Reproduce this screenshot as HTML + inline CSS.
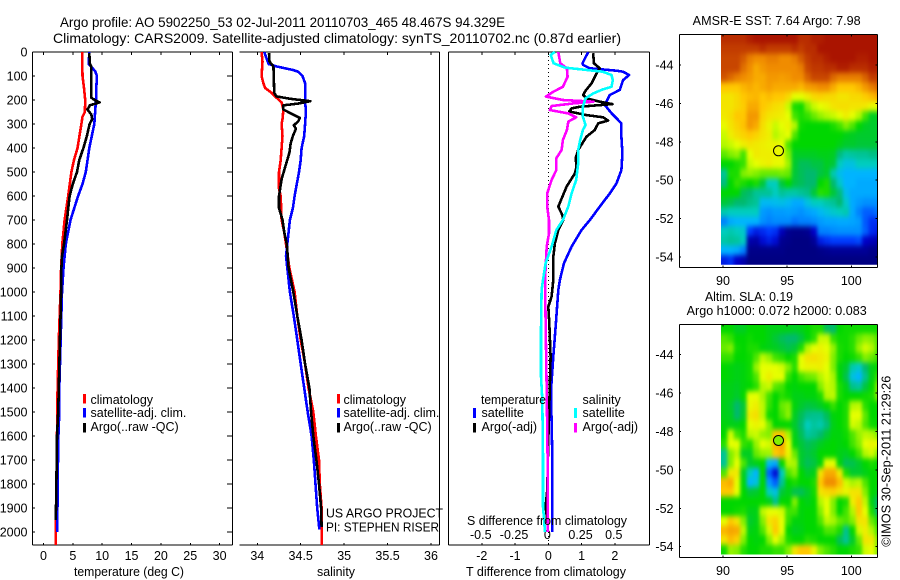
<!DOCTYPE html>
<html>
<head>
<meta charset="utf-8">
<title>Argo profile</title>
<style>
html,body{margin:0;padding:0;background:#fff;width:900px;height:580px;overflow:hidden}
svg{display:block}
text{font-family:"Liberation Sans",Arial,sans-serif;font-size:12.5px;fill:#000}
</style>
</head>
<body>
<svg id="fig" width="900" height="580" viewBox="0 0 900 580" xmlns="http://www.w3.org/2000/svg">
<defs>
<filter id="soften" x="-10%" y="-10%" width="120%" height="120%" color-interpolation-filters="sRGB"><feGaussianBlur stdDeviation="1.8 2.6"/></filter>
<clipPath id="sst-clip"><rect x="721" y="34.5" width="156.5" height="230.2"/></clipPath>
<clipPath id="sla-clip"><rect x="721" y="324.5" width="156.5" height="230"/></clipPath>
</defs>
<rect x="0" y="0" width="900" height="580" fill="#fff"/>
<text x="60" y="27" style="font-size:14px" textLength="445" lengthAdjust="spacingAndGlyphs">Argo profile: AO 5902250_53 02-Jul-2011 20110703_465 48.467S 94.329E</text>
<text x="53" y="43" style="font-size:14px" textLength="568" lengthAdjust="spacingAndGlyphs">Climatology: CARS2009. Satellite-adjusted climatology: synTS_20110702.nc (0.87d earlier)</text>
<g id="panels"></g>
<g id="maps"></g>

<text x="74" y="576" textLength="110" lengthAdjust="spacingAndGlyphs">temperature (deg C)</text>
<text x="317" y="576" textLength="38" lengthAdjust="spacingAndGlyphs">salinity</text>
<text x="466" y="576" textLength="160" lengthAdjust="spacingAndGlyphs">T difference from climatology</text>
<text x="467" y="525" textLength="160" lengthAdjust="spacingAndGlyphs">S difference from climatology</text>

<g>
<rect x="83" y="394" width="3" height="9.5" fill="#f00"/>
<rect x="83" y="408" width="3" height="9.5" fill="#00f"/>
<rect x="83" y="423" width="3" height="9.5" fill="#000"/>
<text x="90.5" y="404">climatology</text>
<text x="90.5" y="417">satellite-adj. clim.</text>
<text x="90.5" y="431">Argo(..raw -QC)</text>
</g>
<g>
<rect x="337" y="394" width="3" height="9.5" fill="#f00"/>
<rect x="337" y="408" width="3" height="9.5" fill="#00f"/>
<rect x="337" y="423" width="3" height="9.5" fill="#000"/>
<text x="343.5" y="404">climatology</text>
<text x="343.5" y="417">satellite-adj. clim.</text>
<text x="343.5" y="431">Argo(..raw -QC)</text>
</g>
<text x="326" y="517.5" textLength="117" lengthAdjust="spacingAndGlyphs">US ARGO PROJECT</text>
<text x="326" y="531.7" textLength="113" lengthAdjust="spacingAndGlyphs">PI: STEPHEN RISER</text>

<g>
<text x="481" y="404" textLength="65" lengthAdjust="spacingAndGlyphs">temperature</text>
<text x="582.5" y="404">salinity</text>
<rect x="473" y="408" width="3" height="10" fill="#00f"/>
<rect x="473" y="423" width="3" height="9.5" fill="#000"/>
<rect x="574" y="408" width="3" height="10" fill="#0ff"/>
<rect x="574" y="423" width="3" height="9.5" fill="#f0f"/>
<text x="481.5" y="417">satellite</text>
<text x="481.5" y="431">Argo(-adj)</text>
<text x="582.5" y="417">satellite</text>
<text x="582.5" y="431">Argo(-adj)</text>
</g>

<text x="692.7" y="25" textLength="168" lengthAdjust="spacingAndGlyphs">AMSR-E SST: 7.64 Argo: 7.98</text>
<text x="705" y="301" textLength="88" lengthAdjust="spacingAndGlyphs">Altim. SLA: 0.19</text>
<text x="686.7" y="315" textLength="180" lengthAdjust="spacingAndGlyphs">Argo h1000: 0.072 h2000: 0.083</text>
<text transform="translate(890.5 546.7) rotate(-90)" textLength="171" lengthAdjust="spacingAndGlyphs">©IMOS 30-Sep-2011 21:29:26</text>
</svg>
<script>
// ---------- profile data (depth in dbar) ----------
var depthTicks = [0,100,200,300,400,500,600,700,800,900,1000,1100,1200,1300,1400,1500,1600,1700,1800,1900,2000];
var tempTicks = [0,5,10,15,20,25,30];
var salTicks = [34,34.5,35,35.5,36];
var salTickLabels = ['34','34.5','35','35.5','36'];
var tDiffTicks = [-2,-1,0,1,2];
var tDiffLabels = ['-2','-1','0','1','2'];
var sDiffTicks = [-0.5,-0.25,0,0.25,0.5];
var sDiffLabels = ['-0.5','-0.25','0','0.25','0.5'];

var tempClimDepth = [0,100,150,200,250,270,300,400,450,500,600,700,800,900,1000,1200,1400,1700,2000,2054];
var tempClim = [6.6,6.65,6.9,7.1,7.05,6.65,6.45,5.8,5.2,4.75,4.2,3.6,3.2,3.0,2.9,2.6,2.4,2.25,2.1,2.1];
var tempSatDepth = [0,50,80,100,150,200,300,400,500,550,600,700,800,900,1000,1400,1500,1600,1800,2000];
var tempSat = [7.8,7.7,8.8,9.1,9,8.95,8.65,7.8,7.2,6.65,5.9,4.6,3.8,3.4,3.15,2.7,2.7,2.53,2.4,2.35];
var tempArgoDepth = [5,50,60,190,200,210,222,240,260,280,300,350,400,450,500,550,600,700,800,850,900,1000,1400,1500,1600,1800,1950];
var tempArgo = [7.8,7.9,8.15,8.15,8.7,9.55,7.9,7.5,8.15,8.3,7.85,7.4,6.8,6.1,5.7,5,4.45,4,3.5,3.15,3.05,3,2.6,2.5,2.3,2.2,2.1];

var salClimDepth = [0,40,100,130,150,170,190,210,240,280,300,350,400,450,500,570,600,700,750,800,900,1000,1100,1200,1300,1400,1500,1600,1700,1800,1900,2054];
var salClim = [34.05,34.06,34.05,34.07,34.09,34.165,34.22,34.28,34.3,34.29,34.28,34.29,34.28,34.27,34.25,34.25,34.27,34.28,34.31,34.33,34.37,34.43,34.46,34.5,34.55,34.59,34.645,34.675,34.71,34.72,34.74,34.74];
var salSatDepth = [0,50,60,75,82,100,130,200,250,300,350,400,450,500,600,650,700,800,850,900,1000,1100,1200,1300,1400,1500,1600,1700,1800,1900,1990];
var salSat = [34.08,34.13,34.22,34.41,34.47,34.52,34.55,34.55,34.56,34.55,34.54,34.51,34.5,34.48,34.43,34.41,34.375,34.345,34.33,34.345,34.375,34.42,34.46,34.5,34.54,34.58,34.625,34.65,34.67,34.69,34.715];
var salArgoDepth = [5,40,60,100,170,185,195,205,215,222,240,260,275,290,305,320,350,380,420,480,530,600,650,700,750,800,900,1000,1100,1200,1300,1400,1500,1600,1700,1800,1900,1980];
var salArgo = [34.135,34.14,34.185,34.19,34.195,34.22,34.38,34.61,34.47,34.3,34.3,34.41,34.49,34.47,34.42,34.445,34.41,34.385,34.37,34.32,34.28,34.25,34.25,34.29,34.31,34.34,34.36,34.415,34.46,34.51,34.55,34.6,34.62,34.645,34.68,34.71,34.735,34.74];

var tDiffSatDepth = [0,47,54,68,78,82,96,117,158,179,221,255,297,353,423,492,547,589,644,700,742,811,881,950,992,1130,1269,1408,1547,1686,1825,2000];
var tDiffSat = [1.2,1.03,1.05,1.25,2.05,2.25,2.43,2.25,2.15,1.85,1.7,1.9,2.2,2.2,2.23,2.2,2.05,1.85,1.55,1.25,1,0.7,0.47,0.35,0.3,0.23,0.15,0.08,0.1,0.12,0.12,0.12];
var tDiffArgoDepth = [5,47,68,89,131,165,179,193,207,217,228,235,248,263,272,286,297,325,353,408,443,478,506,561,644,679,700,742,797,853,950,1019,1061,1130,1269,1477,1616,1825,1894,1963];
var tDiffArgo = [1.35,1.37,1.55,1.45,1.3,1.1,1.05,1.15,1.55,1.93,0.95,0.7,0.63,1.15,1.65,1.8,1.5,1.4,1.15,0.9,0.82,0.85,0.8,0.55,0.3,0.42,0.45,0.3,0.2,0.15,0.15,0.1,0,0.03,0.07,0.03,0,-0.03,-0.08,-0.02];
var sDiffSatDepth = [0,12,47,65,75,82,96,117,145,156,172,193,228,269,304,325,367,408,464,533,589,644,700,742,811,881,950,992,1158,1241,1352,1449,1685,1894,2000];
var sDiffSat = [0.05,0.018,0.04,0.125,0.29,0.41,0.475,0.485,0.475,0.41,0.34,0.28,0.26,0.26,0.28,0.26,0.24,0.225,0.225,0.21,0.175,0.15,0.11,0.06,0.025,-0.02,-0.04,-0.05,-0.055,-0.055,-0.055,-0.045,-0.04,-0.04,-0.025];
var sDiffArgoDepth = [0,47,68,103,145,165,186,200,207,214,225,242,256,272,290,325,367,408,443,492,533,589,644,700,756,811,950,1200,1408,1685,2000];
var sDiffArgo = [0.075,0.09,0.14,0.145,0.11,0.04,-0.018,0.11,0.34,0.19,0.025,0.012,0.15,0.21,0.15,0.14,0.11,0.1,0.06,0.06,0.025,-0.008,-0.008,0.005,0.005,-0.012,-0.025,-0.018,-0.012,-0.005,-0.005];

// ---------- map data (colour-scale levels per 0.5 degree cell, north to south) ----------
var mapLatTicks = [-44,-46,-48,-50,-52,-54];
var mapLonTicks = [90,95,100];
var argoLon = 94.329;
var argoLat = -48.467;
var argoSlaLevel = 8;
var sstLevels = [
[12.5,12.5,12.5,12.5,12.8,13,13,13,13,13,13,13,12.5,12.5,12.8,12.8,13,13,13,13,13,13,13,13,13],
[12.2,12.2,12.2,12.2,12.2,12.2,12.5,12.2,12.2,12.2,12.2,12.5,12.2,12.5,12.5,13,13,13,13,13,13,13,13,13,13],
[12,12,12,11.7,11.2,11,11,11.2,11.2,11,11,11.2,11.7,12.2,12.5,12.5,12.8,13,13,13,13,12.8,12.8,13,13],
[12,12,12,11.4,11,10.5,10.8,11,11,11,11,11,11.2,12,12.3,12.3,12.5,12.5,12.8,12.8,12.5,12.5,12.5,12.8,12.8],
[11.8,11.5,11.2,11,10.8,10.5,10.5,10.8,10.8,10.7,10.8,11,11,11.6,12,12,12,11.5,11.2,11.2,11.2,11.2,11.6,12.2,12.2],
[10,10,10,10.3,10.5,10.3,10.5,10.7,10.5,10.5,10.5,10.5,10.3,10.7,10.8,11,11,10.5,10,10,10,10.3,10.8,11.2,11.5],
[9.5,9.5,9.7,10,10.2,10.3,10,10.2,10,10,9.7,9,9,9.3,9.7,9.8,9.7,9.7,9.5,9.5,9.7,9.7,9.9,10.2,10.5],
[9.5,9.5,9.7,9.9,10.5,10.5,10,9.8,9.6,9.5,8.7,7.2,7.1,8,8.7,9,9.2,9.5,9.6,9.6,9.5,9.5,9.4,9.1,9],
[9.4,9.6,10,10,10.8,10.8,9.8,9.5,9.4,9.3,9,7.5,7.2,7.4,7.8,8.2,8.5,8.7,9,9.3,9,8.5,7.5,6.7,6.7],
[9.1,9.5,9.8,10.1,10.8,10.5,9.6,9.2,8.7,9,9.2,8.5,7.1,7,7,7,7,7.2,7.5,8,7.6,7,6.7,6.6,6.6],
[8.7,9.3,9.6,9.8,10,9.8,9.5,9.3,8.5,8.8,9,7.6,7,7,7,7,7,7,7,6.8,6.7,6.6,6.6,6.6,6.6],
[8.5,8.7,9,9.3,9.5,9.4,9.3,9.2,9.2,9,7.6,7,7,7,7,7,7,7,6.8,6.6,6.6,6.5,6.5,6.5,6.5],
[7.7,8,8.2,7.5,9,9.4,9.3,9.3,9.2,9.1,8,6.7,6.7,6.7,6.7,6.8,6.8,6.7,5.8,5.3,5.4,5.5,5.5,5.7,5.7],
[7,7,7.2,7.4,8.7,9,9.2,9.3,9.1,9.1,8.3,6.6,6.2,6.2,6.4,6.4,6.7,6.5,5,4.5,4.5,5,5,5,5],
[5.5,7.2,7.2,8,8.2,8,7.8,7.8,7.8,7.9,7.8,6.5,6.2,6,6,6.4,6.6,5.2,4.3,4,4,4,4,4,4],
[5.8,7,7.4,7.2,7,7.2,6.5,5,5,6.5,7,6.4,6.2,6,6,7,7.2,6,4.8,4,4,3.8,3.8,3.8,3.8],
[7,7,7,6.2,6,5.5,5.5,5.5,5,5.5,5.3,5.3,5.5,5.7,6.5,7.3,7.2,6.5,5.8,4.3,3.8,3.8,3.8,3.8,3.8],
[6.5,6.3,6,6,5.7,5.5,4.2,4.2,4.3,4.4,4.2,3.8,3.8,4.5,5,5,5.3,5.5,6,4.8,3.8,3.5,3.3,3.3,3.3],
[5.2,5,5,5,5,5,3.5,3.3,3.5,3.5,3.6,3.5,3.3,3.6,3.8,4.2,4.5,4.8,5,5.2,3.8,3,2.5,2.5,2.8],
[3,3.8,4,4,4,4,3.3,3,3.2,3.2,3.2,2.8,3,3,3.2,3.5,3.7,3.7,3.8,3.8,3.7,3.5,2.4,1.8,1.8],
[5,5.2,5,4.8,2,1.5,1.7,2,1.8,0.8,0.2,0.1,0.1,0.2,1,3,3,3.2,3.3,3.3,3.3,3.3,2.5,1.7,1.5],
[5.3,5.5,5.4,5,0.6,0.5,1.2,1.5,1.2,0.2,0.1,0,0,0,0.3,1.5,1.8,2,2,2,2,2.2,1,0.8,0.6],
[4,4,3.8,3,0.1,0.1,0.1,0.1,0.1,0.1,0,0,0,0,0,0.1,0.2,0.3,0.3,0.3,0.3,0.3,0.3,0.1,0.1],
[1.5,1.8,1,0.6,0,0,0,0,0,0,0,0,0,0,0,0,0,0,0,0,0,0,0,0,0]
];
var slaLevels = [
[7,7,6.7,6.7,7,7,7,6.8,6.8,6.8,6.8,6.7,6.8,7,7.2,7.2,6.2,6,7,7.1,7.1,7.1,7.1,7.1,7.1],
[7.6,7.4,7,7,7.1,7,7,6.8,6.5,6.2,6,6,6.4,6.9,7.3,8.7,8.7,7.4,7.1,7.1,7.3,7.8,8.1,8,7.6],
[7.8,8,7.1,7,7.2,7.2,6.9,6.8,6.7,6.5,6.3,6.5,7.2,8.5,9,9.2,9,8.2,7.2,7.1,7.3,8.2,8.8,8.5,7.6],
[7.4,7.4,7,7,7.1,7.6,8.6,8.2,7.5,7.3,7,7.2,9,9.5,9.6,9.4,9.2,8,7.2,7,7.1,7.4,8,7.8,7.4],
[7,6.9,6.8,6.9,7.1,8.2,9,9,9,8.8,8,7.3,9,9.2,9.2,9.3,9,8,6.9,6.6,5.2,4.8,6,6.8,7],
[7,6.9,6.8,6.9,7.1,7.6,9,9.3,9,9,7.4,7,7.5,7.8,7.9,8.5,8.9,8.4,7,6.3,4.5,4,5.6,6.8,7.4],
[6.8,6.8,6.7,6.9,7,7.3,8.5,8.7,7.7,7.5,7,6.9,7,7,7,8,8.7,8.5,7.2,6.8,5.6,5.4,6.4,7,8],
[6.8,6.8,6.6,7,9,9,8.4,7.5,7,7.3,7.1,6.8,6.8,6.9,6.9,7.2,8.5,8.6,7.2,7,7,7,7.1,7.2,8],
[6.8,6.6,6,6.5,9.1,9.3,8.6,7.4,7,7.8,8,6.9,6.6,6.4,6.5,6.7,7,7.4,7,7.2,8.5,8.6,7.3,7,7],
[6.8,6.7,6,6.6,9.4,9.6,8.6,7.1,7,7.6,8.1,6.7,6.2,5.7,5.6,5.6,6.2,6.9,7,7.2,9,9,7.7,7,7],
[6.9,6.8,6.8,7,9,9.2,9,8,7,7,7,6.6,6,5,5.4,5.2,5.8,6.8,7,7.2,8.8,8.6,7.6,7.1,7],
[7,8.8,7.5,7.2,8.6,8.7,8.2,8,10,10,8.4,6.8,6.2,5.4,5.6,6,6.5,6.9,6.9,7.1,7.6,8.2,8.6,8.5,8],
[7.3,9,9,7.4,7.2,8.2,9,8.8,10.3,10.6,9,6.9,6.5,6.2,6.4,6.7,6.9,7,6.9,7,7.5,8,9,9.2,9],
[5.5,8,8.6,6.7,6.7,7.8,8.2,8.3,10,10.3,9.2,7.8,6.6,6.4,6.6,7,7,7,6.8,6.7,7,7.5,8.5,8.8,8],
[5.5,8,9,7.6,6.6,6.8,7,4.2,3.8,7,8.5,8.4,6.6,6.2,6.4,6.9,9,9,6.9,6.2,6.3,6.6,7,7.2,7],
[7.6,9.4,9.4,6.7,5,4,7,2.5,1.2,5,7.6,8,7,6.6,6.8,9.5,10.5,10.5,9.4,7.2,6.6,6.6,6.8,7,7],
[10.2,10.5,9,6.9,4,4.5,7,3.5,2.5,5.5,7,7.2,7,7,7.2,10,11,11,10.2,8.8,8.4,8.6,7.6,7,7],
[10,10,9,7,6.5,6.6,7,5,4.5,6.5,6.8,6.3,6.2,6.6,7.1,9.5,9.7,9.8,9.5,9.2,9.5,9.5,8,7,6.8],
[7,7,7,7,7,7,7,6.8,5.6,7,7,8,7,6.8,7,8.5,9,8,7,7.2,9.3,10,8.6,6.8,6],
[7,7,7.1,7.2,6.8,6.8,8.6,9,9,8.8,7.5,7.5,6.9,7,7,8,9,8,7,7.5,8.5,10,9,7.2,6],
[9,10,9.5,8,6.6,6.8,8,9.5,9.8,9,7.4,6.9,6.9,7,7,7.6,8.6,8.4,7.8,7.6,8,9.5,9.5,7.8,7.2],
[10.3,10.6,10.5,8.6,6.8,6.9,7.6,8.8,10,9,7,6.7,6.8,7,7,7.1,7.6,7.6,7.2,5.6,7,8.8,9.3,8.5,7.5],
[9.5,10.2,9.8,8,7,6.9,7,8,9,8.3,7.2,7,7,7.3,7.2,7,7,7,6.2,5.5,6.6,7.8,9.5,9.4,8],
[7.1,8.2,8,7.3,7,7,7.2,7.2,7.4,7.4,8,9.5,10,10,9.2,8,7.6,7.3,7,7,7.2,7.4,8.8,9,8]
];
var levelColors = [[0,0,130],[0,0,200],[0,60,255],[0,130,255],[0,180,255],[0,205,190],[0,185,110],[0,215,0],[130,240,0],[230,255,0],[255,200,0],[240,140,0],[200,70,0],[170,20,0]];

// ---------- drawing ----------
var NS = 'http://www.w3.org/2000/svg';
var panelsG = document.getElementById('panels');
var mapsG = document.getElementById('maps');

function el(parent, tag, attrs, name) {
  var e = document.createElementNS(NS, tag);
  for (var k in attrs) e.setAttribute(k, attrs[k]);
  
  
  parent.appendChild(e);
  return e;
}
function label(parent, x, y, str, anchor, name) {
  var t = el(parent, 'text', {x: x, y: y, 'text-anchor': anchor}, name);
  t.textContent = str;
  return t;
}
function seg(parent, x1, y1, x2, y2, name) {
  return el(parent, 'line', {x1: x1, y1: y1, x2: x2, y2: y2, stroke: '#000', 'stroke-width': 1, 'shape-rendering': 'crispEdges'}, name);
}
function yDepth(d) { return 52 + 0.24 * d; }
function xTemp(t) { return 43.5 + 5.87 * t; }
function xSal(s) { return 257.3 + 86.85 * (s - 34); }
function xTDiff(t) { return 548.3 + 33.25 * t; }
function xSDiff(s) { return 548.3 + 133 * s; }
function xLon(lon) { return 723 + 12.83 * (lon - 90); }

function profile(parent, depths, values, xFn, color, name) {
  var pts = [];
  for (var i = 0; i < depths.length; i++) pts.push(xFn(values[i]).toFixed(1) + ',' + yDepth(depths[i]).toFixed(1));
  return el(parent, 'polyline', {points: pts.join(' '), fill: 'none', stroke: color, 'stroke-width': 2.6, 'stroke-linejoin': 'round', 'shape-rendering': 'crispEdges'}, name);
}

var top_ = 52, bot = 545;

// panel 1: temperature
var p1 = el(panelsG, 'g', {}, 'temperature-panel');
seg(p1, 32.5, top_, 232.5, top_, 'top-spine');
seg(p1, 32.5, bot, 232.5, bot, 'bottom-spine');
seg(p1, 32.5, top_, 32.5, bot, 'left-spine');
seg(p1, 232.5, top_, 232.5, bot, 'right-spine');
depthTicks.forEach(function (d) {
  var y = yDepth(d);
  seg(p1, 32.5, y, 35, y, 'depth-tick-left');
  seg(p1, 227, y, 232.5, y, 'depth-tick-right');
  label(p1, 27.5, y + 4.5, String(d), 'end', 'depth-tick-label');
});
tempTicks.forEach(function (t) {
  var x = xTemp(t);
  seg(p1, x, top_, x, top_ + 3, 'temperature-tick-top');
  seg(p1, x, bot - 2, x, bot, 'temperature-tick-bottom');
  label(p1, x, 560, String(t), 'middle', 'temperature-tick-label');
});
profile(p1, tempClimDepth, tempClim, xTemp, '#f00', 'temperature-climatology-line');
profile(p1, tempSatDepth, tempSat, xTemp, '#00f', 'temperature-satellite-line');
profile(p1, tempArgoDepth, tempArgo, xTemp, '#000', 'temperature-argo-line');

// panel 2: salinity
var p2 = el(panelsG, 'g', {}, 'salinity-panel');
seg(p2, 239.5, top_, 439.5, top_, 'top-spine');
seg(p2, 239.5, bot, 439.5, bot, 'bottom-spine');
seg(p2, 439.5, top_, 439.5, bot, 'right-spine');
salTicks.forEach(function (s, i) {
  var x = xSal(s);
  seg(p2, x, top_, x, top_ + 3, 'salinity-tick-top');
  seg(p2, x, bot - 2, x, bot, 'salinity-tick-bottom');
  label(p2, x, 560, salTickLabels[i], 'middle', 'salinity-tick-label');
});
profile(p2, salClimDepth, salClim, xSal, '#f00', 'salinity-climatology-line');
profile(p2, salSatDepth, salSat, xSal, '#00f', 'salinity-satellite-line');
profile(p2, salArgoDepth, salArgo, xSal, '#000', 'salinity-argo-line');

// panel 3: differences
var p3 = el(panelsG, 'g', {}, 'difference-panel');
seg(p3, 448.5, top_, 649.5, top_, 'top-spine');
seg(p3, 448.5, bot, 649.5, bot, 'bottom-spine');
seg(p3, 448.5, top_, 448.5, bot, 'left-spine');
seg(p3, 649.5, top_, 649.5, bot, 'right-spine');
tDiffTicks.forEach(function (t, i) {
  var x = xTDiff(t);
  seg(p3, x, top_, x, top_ + 3, 't-difference-tick-top');
  seg(p3, x, bot - 2, x, bot, 't-difference-tick-bottom');
  label(p3, x, 560, tDiffLabels[i], 'middle', 't-difference-tick-label');
});
sDiffTicks.forEach(function (s, i) {
  label(p3, xSDiff(s) - 1, 539, sDiffLabels[i], 'middle', 's-difference-tick-label');
});
var zero = el(p3, 'line', {x1: xTDiff(0), y1: top_, x2: xTDiff(0), y2: bot, stroke: '#000', 'stroke-width': 1, 'stroke-dasharray': '1 3', 'shape-rendering': 'crispEdges'}, 'zero-difference-line');
profile(p3, tDiffSatDepth, tDiffSat, xTDiff, '#00f', 't-difference-satellite-line');
profile(p3, tDiffArgoDepth, tDiffArgo, xTDiff, '#000', 't-difference-argo-line');
profile(p3, sDiffArgoDepth, sDiffArgo, xSDiff, '#f0f', 's-difference-argo-line');
profile(p3, sDiffSatDepth, sDiffSat, xSDiff, '#0ff', 's-difference-satellite-line');

// maps
function levelColor(v) {
  var i = Math.max(0, Math.min(levelColors.length - 2, Math.floor(v)));
  var f = Math.max(0, Math.min(1, v - i));
  var a = levelColors[i], b = levelColors[i + 1];
  return 'rgb(' + Math.round(a[0] + (b[0] - a[0]) * f) + ',' + Math.round(a[1] + (b[1] - a[1]) * f) + ',' + Math.round(a[2] + (b[2] - a[2]) * f) + ')';
}
function drawMap(levels, lat44Y, frameTop, frameBot, labelY, markerFill, clipId, mapName) {
  var g = el(mapsG, 'g', {}, mapName);
  function yLat(lat) { return lat44Y + 19.2 * (-44 - lat); }
  var xL = 679.5, xR = 877.5, pad = 10;
  var clipG = el(g, 'g', {'clip-path': 'url(#' + clipId + ')'}, 'map-image-clip');
  var cells = el(clipG, 'g', {filter: 'url(#soften)'}, 'map-image');
  levels.forEach(function (row, r) {
    row.forEach(function (v, c) {
      var lon0 = 89.84 + 0.5 * c, lat0 = -42.4 - 0.5 * r;
      var x0 = xLon(lon0) - (c === 0 ? pad : 0);
      var x1 = xLon(lon0 + 0.5) + (c === row.length - 1 ? pad : 0.7);
      var y0 = yLat(lat0) - (r === 0 ? pad : 0);
      var y1 = yLat(lat0 - 0.5) + (r === levels.length - 1 ? pad : 0.7);
      el(cells, 'rect', {x: x0.toFixed(1), y: y0.toFixed(1), width: (x1 - x0).toFixed(1), height: (y1 - y0).toFixed(1), fill: levelColor(v)}, 'map-cell');
    });
  });
  seg(g, xL, frameTop, xR, frameTop, 'map-top-spine');
  seg(g, xL, frameBot, xR, frameBot, 'map-bottom-spine');
  seg(g, xL, frameTop, xL, frameBot, 'map-left-spine');
  seg(g, xR, frameTop, xR, frameBot, 'map-right-spine');
  mapLatTicks.forEach(function (lat) {
    var y = yLat(lat);
    seg(g, xL, y, xL + 1.5, y, 'lat-tick-left');
    seg(g, xR - 2, y, xR, y, 'lat-tick-right');
    label(g, 673.5, y + 4.5, String(lat), 'end', 'lat-tick-label');
  });
  mapLonTicks.forEach(function (lon) {
    var x = xLon(lon);
    seg(g, x, frameTop, x, frameTop + 2, 'lon-tick-top');
    seg(g, x, frameBot - 2, x, frameBot, 'lon-tick-bottom');
    label(g, x, labelY, String(lon), 'middle', 'lon-tick-label');
  });
  el(g, 'circle', {cx: xLon(argoLon).toFixed(1), cy: yLat(argoLat).toFixed(1), r: 5, fill: markerFill, stroke: '#000', 'stroke-width': 1}, 'argo-position-marker');
}
drawMap(sstLevels, 65, 34.5, 267.5, 285, 'none', 'sst-clip', 'sst-map');
drawMap(slaLevels, 354.7, 324.5, 557.5, 575, levelColor(argoSlaLevel), 'sla-clip', 'sla-map');
</script>
</body>
</html>
